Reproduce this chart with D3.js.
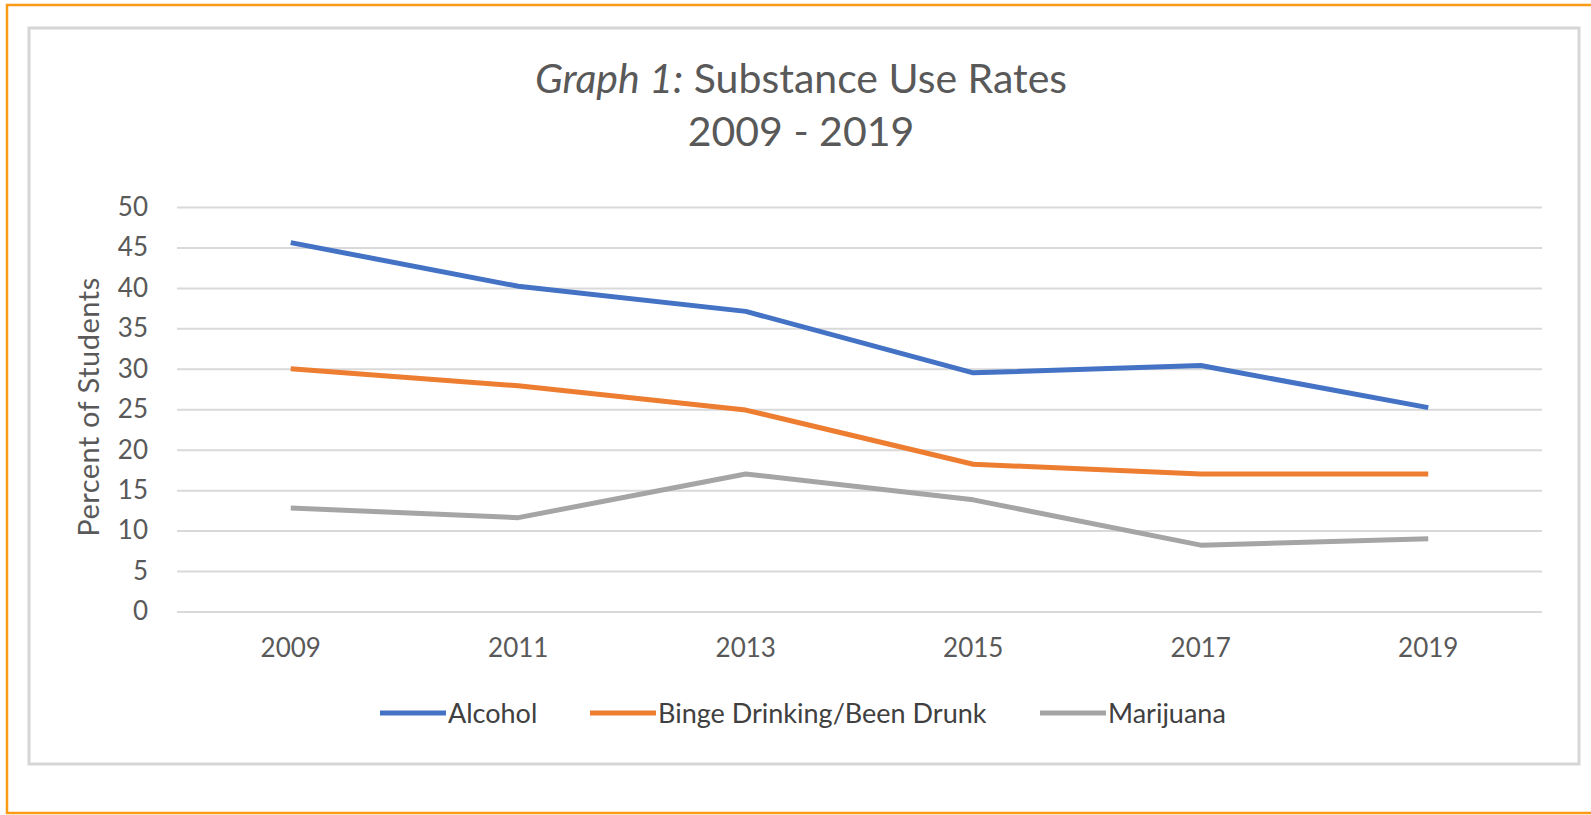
<!DOCTYPE html>
<html>
<head>
<meta charset="utf-8">
<script src="https://cdn.jsdelivr.net/npm/d3@7"></script>
<style>
  body { margin: 0; background: #fff; }
  svg { display: block; font-family: Lato, "Open Sans", sans-serif; }
</style>
</head>
<body>
<svg width="1591" height="815"></svg>
<script>
// data
var years = ["2009", "2011", "2013", "2015", "2017", "2019"];
var alcohol = [45.6, 40.2, 37.1, 29.5, 30.4, 25.2];
var binge = [30.0, 27.9, 24.9, 18.2, 17.0, 17.0];
var marijuana = [12.8, 11.6, 17.0, 13.8, 8.2, 9.0];
var seriesNames = ["Alcohol", "Binge Drinking/Been Drunk", "Marijuana"];
var yTicks = [0, 5, 10, 15, 20, 25, 30, 35, 40, 45, 50];

var colors = ["#4472C4", "#ED7D31", "#A5A5A5"];
var series = [alcohol, binge, marijuana].map(function(vals, i) {
  return { name: seriesNames[i], color: colors[i], values: vals };
});

var svg = d3.select("svg"),
    margin = { top: 207, right: 49, bottom: 203.5, left: 177 },
    width = +svg.attr("width") - margin.left - margin.right,
    height = +svg.attr("height") - margin.top - margin.bottom;

// outer orange frame and inner chart frame
svg.append("rect")
  .attr("x", 7).attr("y", 5).attr("width", 1620).attr("height", 808)
  .attr("fill", "none").attr("stroke", "#F99B14").attr("stroke-width", 2.5);
svg.append("rect")
  .attr("x", 29).attr("y", 28).attr("width", 1550).attr("height", 736)
  .attr("fill", "#fff").attr("stroke", "#d6d6d6").attr("stroke-width", 3);

var g = svg.append("g").attr("transform", "translate(" + margin.left + "," + margin.top + ")");

var x = d3.scaleBand().domain(years).range([0, width]);
var y = d3.scaleLinear().domain([0, 50]).range([height, 0]);

// gridlines + y labels
var yAxis = g.append("g")
  .call(d3.axisLeft(y).tickValues(yTicks).tickSize(-width).tickPadding(29));
yAxis.select(".domain").remove();
yAxis.selectAll("line").attr("stroke", "#d9d9d9").attr("stroke-width", 2);
yAxis.selectAll("text").attr("fill", "#595959").style("font-size", "26px").style("font-family", "Lato");

// x labels
var xAxis = g.append("g")
  .attr("transform", "translate(0," + height + ")")
  .call(d3.axisBottom(x).tickSize(0).tickPadding(27));
xAxis.select(".domain").remove();
xAxis.selectAll("text").attr("fill", "#595959").style("font-size", "26px").style("font-family", "Lato");

// lines
var line = d3.line()
  .x(function(d, i) { return x(years[i]) + x.bandwidth() / 2; })
  .y(function(d) { return y(d); });

g.selectAll(".series")
  .data(series)
  .enter().append("path")
    .attr("class", "series")
    .attr("fill", "none")
    .attr("stroke", function(d) { return d.color; })
    .attr("stroke-width", 5)
    .attr("stroke-linejoin", "round")
    .attr("d", function(d) { return line(d.values); });

// y axis title
svg.append("text")
  .attr("transform", "translate(99,407) rotate(-90)")
  .attr("text-anchor", "middle")
  .attr("fill", "#595959")
  .style("font-size", "29px")
  .style("letter-spacing", "0.5px")
  .text("Percent of Students");

// title
var title = svg.append("text")
  .attr("text-anchor", "middle")
  .attr("fill", "#595959")
  .style("font-size", "41px");
title.append("tspan").attr("x", 801).attr("y", 93).style("font-style", "italic").text("Graph 1:");
title.append("tspan").text(" Substance Use Rates");
title.append("tspan").attr("x", 801).attr("y", 146).text("2009 - 2019");

// legend
var legendX = [380, 590, 1040];
var legend = svg.selectAll(".legend")
  .data(series)
  .enter().append("g")
    .attr("class", "legend")
    .attr("transform", function(d, i) { return "translate(" + legendX[i] + ",713)"; });
legend.append("line")
  .attr("x1", 0).attr("x2", 66)
  .attr("stroke", function(d) { return d.color; })
  .attr("stroke-width", 5);
legend.append("text")
  .attr("x", 68).attr("y", 10)
  .attr("fill", "#404040")
  .style("font-size", "27px")
  .text(function(d) { return d.name; });
</script>
</body>
</html>
